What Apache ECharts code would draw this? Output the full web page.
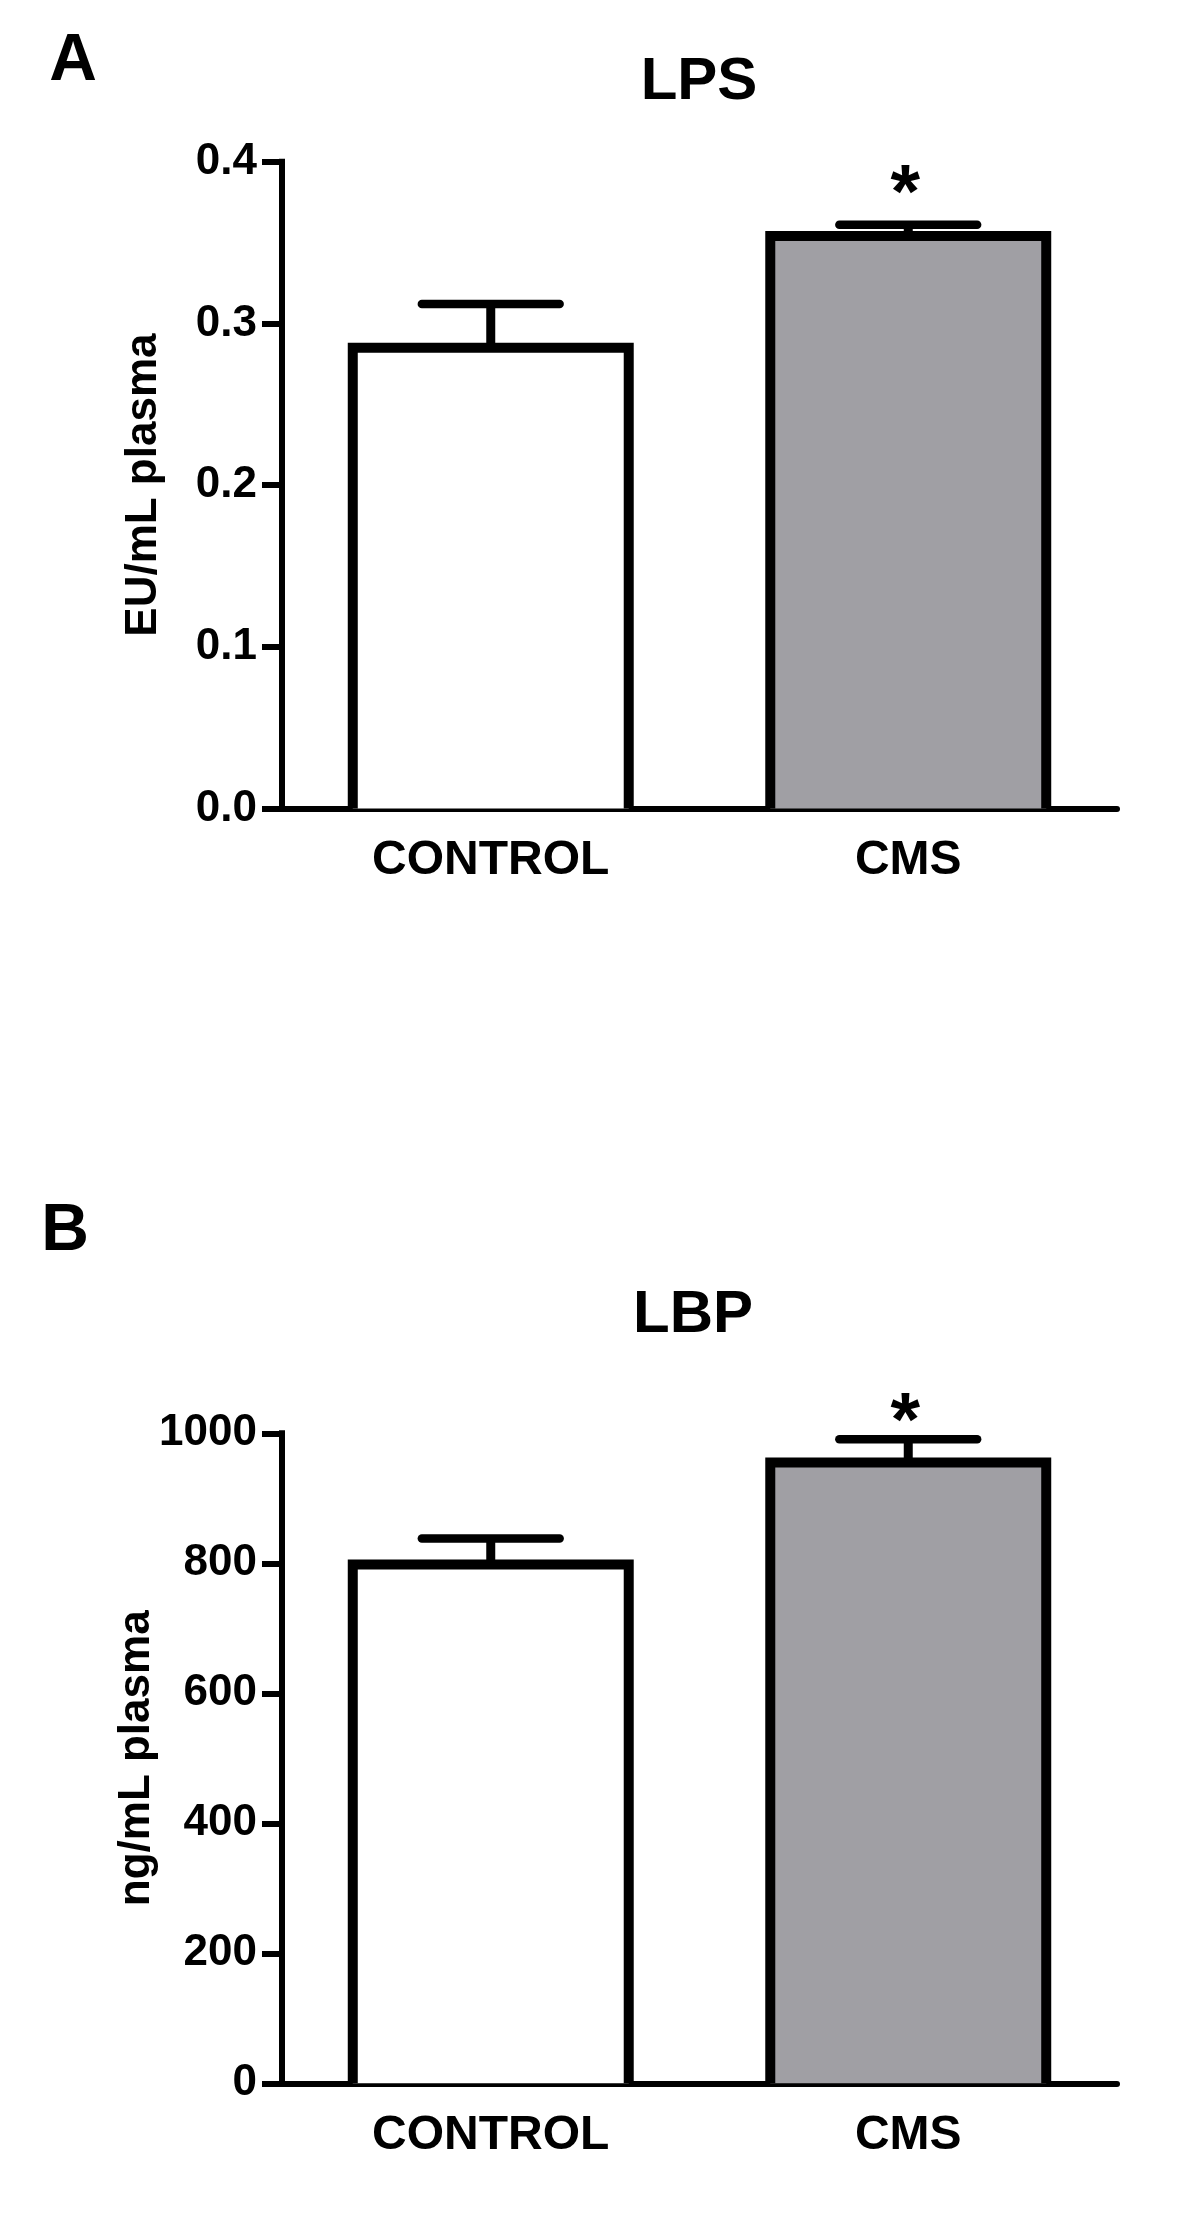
<!DOCTYPE html>
<html><head><meta charset="utf-8">
<script src="https://cdn.jsdelivr.net/npm/echarts@6/dist/echarts.min.js"></script>
<style>html,body{margin:0;padding:0;background:#fff}#c{width:1200px;height:2218px}</style>
</head><body><div id="c"></div>
<script>
// ---- data ----
const categories = ['CONTROL', 'CMS'];
const lpsMean = [0.285, 0.354];
const lpsSem = [0.027, 0.007];
const lbpMean = [798, 955];
const lbpSem = [40, 36];
const significant = [false, true];
const lpsTicks = [0, 0.1, 0.2, 0.3, 0.4];
const lbpTicks = [0, 200, 400, 600, 800, 1000];
const panelLetters = ['A', 'B'];
const panelTitles = ['LPS', 'LBP'];
const yNames = ['EU/mL plasma', 'ng/mL plasma'];
const barColors = ['#ffffff', '#a09fa4'];

const FONT = '"Liberation Sans", Arial, Helvetica, sans-serif';
const chart = echarts.init(document.getElementById('c'), null, {renderer: 'canvas'});

const panels = [
  {mean: lpsMean, sem: lpsSem, ticks: lpsTicks, dec: 1, top: 161.7, height: 646.8, starGap: 29, nameGap: 116},
  {mean: lbpMean, sem: lbpSem, ticks: lbpTicks, dec: 0, top: 1433.3, height: 650, starGap: 15, nameGap: 123}
];

const grid = [], xAxis = [], yAxis = [], series = [];
panels.forEach((p, gi) => {
  grid.push({left: 282, width: 835, top: p.top, height: p.height, containLabel: false});
  xAxis.push({
    type: 'category', gridIndex: gi, data: categories, boundaryGap: true,
    axisLine: {lineStyle: {color: '#000', width: 6, cap: 'round'}},
    axisTick: {alignWithLabel: true, length: 20, lineStyle: {color: '#000', width: 6}},
    axisLabel: {color: '#000', fontSize: 48, fontWeight: 'bold', fontFamily: FONT, margin: 28}
  });
  const tk = p.ticks;
  yAxis.push({
    type: 'value', gridIndex: gi, min: tk[0], max: tk[tk.length - 1], interval: tk[1] - tk[0],
    splitLine: {show: false},
    axisLine: {show: true, lineStyle: {color: '#000', width: 6, cap: 'square'}},
    axisTick: {show: true, length: 20, lineStyle: {color: '#000', width: 6}},
    axisLabel: {color: '#000', fontSize: 44, fontWeight: 'bold', fontFamily: FONT, margin: 25,
      formatter: v => v.toFixed(p.dec)},
    name: yNames[gi], nameLocation: 'middle', nameGap: p.nameGap, nameMoveOverlap: false,
    nameTextStyle: {color: '#000', fontSize: 44, fontWeight: 'bold', fontFamily: FONT}
  });
  // bars (custom so the bar outline is open at the baseline, as in the figure)
  series.push({
    type: 'custom', xAxisIndex: gi, yAxisIndex: gi, z: 2, animation: false, silent: true,
    data: p.mean.map((m, i) => [i, m]),
    renderItem: function (params, api) {
      const i = api.value(0);
      const pt = api.coord([i, api.value(1)]);
      const p0 = api.coord([i, 0]);
      const band = api.size([1, 0])[0];
      const w = band * 0.661;
      const l = pt[0] - w / 2, r = pt[0] + w / 2;
      return {type: 'group', children: [
        {type: 'rect', shape: {x: l, y: pt[1], width: w, height: p0[1] - pt[1]},
          style: {fill: barColors[i], stroke: null}},
        {type: 'polyline', shape: {points: [[l, p0[1]], [l, pt[1]], [r, pt[1]], [r, p0[1]]]},
          style: {stroke: '#000', lineWidth: 10, fill: null, lineJoin: 'miter', lineCap: 'butt'}}
      ]};
    }
  });
  // error bars + significance marks
  series.push({
    type: 'custom', xAxisIndex: gi, yAxisIndex: gi, z: 3, animation: false, silent: true,
    data: p.mean.map((m, i) => [i, m, m + p.sem[i], significant[i] ? 1 : 0]),
    renderItem: function (params, api) {
      const x = api.value(0), m = api.value(1), hi = api.value(2);
      const p0 = api.coord([x, m]);
      const p1 = api.coord([x, hi]);
      const band = api.size([1, 0])[0];
      const half = band * 0.165;
      const children = [
        {type: 'line', shape: {x1: p0[0], y1: p0[1], x2: p1[0], y2: p1[1]},
          style: {stroke: '#000', lineWidth: 9, fill: null}},
        {type: 'line', shape: {x1: p1[0] - half, y1: p1[1], x2: p1[0] + half, y2: p1[1]},
          style: {stroke: '#000', lineWidth: 8.5, lineCap: 'round', fill: null}}
      ];
      if (api.value(3)) {
        children.push({type: 'text', style: {
          text: '*', x: p1[0] - 3, y: p1[1] - p.starGap,
          fill: '#000', fontSize: 76, fontWeight: 'bold', fontFamily: FONT,
          textAlign: 'center', textVerticalAlign: 'middle', align: 'center', verticalAlign: 'middle'
        }});
      }
      return {type: 'group', children: children};
    }
  });
});

function txt(t, x, y, size) {
  return {type: 'text', x: x, y: y, silent: true, style: {
    text: t, fill: '#000', fontSize: size, fontWeight: 'bold', fontFamily: FONT,
    textAlign: 'center', textVerticalAlign: 'middle', align: 'center', verticalAlign: 'middle'
  }};
}

chart.setOption({
  animation: false,
  backgroundColor: '#ffffff',
  grid: grid, xAxis: xAxis, yAxis: yAxis, series: series,
  graphic: [
    txt(panelLetters[0], 73, 62, 66),
    txt(panelTitles[0], 699, 82, 60),
    txt(panelLetters[1], 65, 1232, 66),
    txt(panelTitles[1], 693, 1315, 60)
  ]
});
</script>
</body></html>
